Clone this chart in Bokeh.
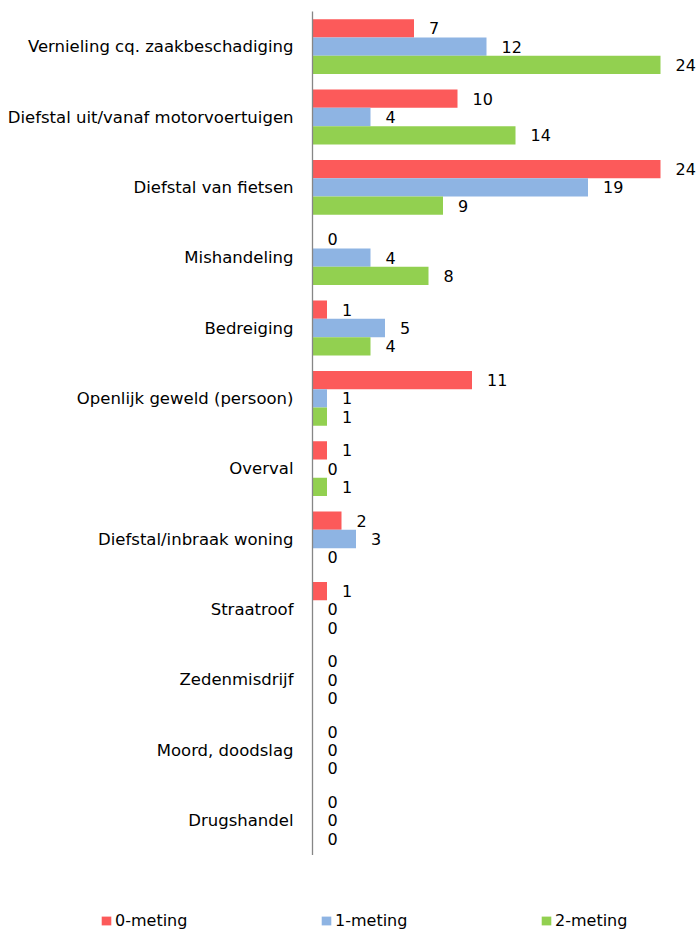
from bokeh.plotting import figure
from bokeh.layouts import column
from bokeh.models import ColumnDataSource, FactorRange, Range1d, Legend, LegendItem
from bokeh.transform import dodge
from bokeh.core.properties import value
from bokeh.embed import file_html
from bokeh.resources import INLINE

categories = [
    "Vernieling cq. zaakbeschadiging",
    "Diefstal uit/vanaf motorvoertuigen",
    "Diefstal van fietsen",
    "Mishandeling",
    "Bedreiging",
    "Openlijk geweld (persoon)",
    "Overval",
    "Diefstal/inbraak woning",
    "Straatroof",
    "Zedenmisdrijf",
    "Moord, doodslag",
    "Drugshandel",
]
series_names = ["0-meting", "1-meting", "2-meting"]
meting0 = [7, 10, 24, 0, 1, 11, 1, 2, 1, 0, 0, 0]
meting1 = [12, 4, 19, 4, 5, 1, 0, 3, 0, 0, 0, 0]
meting2 = [24, 14, 9, 8, 4, 1, 1, 0, 0, 0, 0, 0]
colors = ["#FC5A5A", "#8EB4E3", "#92D050"]

FONT = "DejaVu Sans"
PX_PER_UNIT = 14.5
LEFT = 312
W = 699
H_MAIN = 855
H_LEG = 75

p = figure(
    width=W, height=H_MAIN,
    y_range=FactorRange(factors=list(reversed(categories)), range_padding=0),
    x_range=Range1d(0, (W - LEFT) / PX_PER_UNIT),
    x_axis_location=None,
    output_backend="svg", toolbar_location=None,
    min_border_left=LEFT, min_border_right=0, min_border_top=11, min_border_bottom=0,
)
p.frame_align = False
p.outline_line_color = None
p.xgrid.visible = False
p.ygrid.visible = False

yax = p.yaxis[0]
yax.axis_line_color = "#868686"
yax.axis_line_width = 1.3
yax.major_tick_out = 0
yax.major_tick_in = 0
yax.minor_tick_out = 0
yax.minor_tick_in = 0
yax.major_label_standoff = 19
yax.major_label_text_font = FONT
yax.major_label_text_font_size = "16.5px"
yax.major_label_text_color = "#000000"

src = ColumnDataSource(dict(
    cat=categories,
    m0=meting0, m1=meting1, m2=meting2,
    l0=[str(v) for v in meting0],
    l1=[str(v) for v in meting1],
    l2=[str(v) for v in meting2],
))

offsets = [0.26, 0.0, -0.26]
for key, lab, off, col in zip(["m0", "m1", "m2"], ["l0", "l1", "l2"], offsets, colors):
    p.hbar(y=dodge("cat", off, range=p.y_range), left=0, right=key, height=0.26,
           source=src, fill_color=col, line_color=None)
    p.text(x=key, y=dodge("cat", off, range=p.y_range), text=lab, source=src,
           x_offset=15, text_align="left", text_baseline="middle",
           text_font=value(FONT), text_font_size="16px", text_color="#000000")

# legend strip below the chart
pl = figure(
    width=W, height=H_LEG,
    x_range=Range1d(0, 1), y_range=Range1d(0, 1),
    x_axis_location=None, y_axis_location=None,
    output_backend="svg", toolbar_location=None,
    min_border_left=0, min_border_right=0, min_border_top=0, min_border_bottom=0,
)
pl.frame_align = False
pl.outline_line_color = None
pl.xgrid.visible = False
pl.ygrid.visible = False
leg_renderers = []
for key, c in zip(["m0", "m1", "m2"], colors):
    r = pl.hbar(y=key, right=key, left=0, height=0.1, source=src,
                fill_color=c, line_color=None)
    r.visible = False
    leg_renderers.append(r)

legend = Legend(
    items=[LegendItem(label=n, renderers=[r]) for n, r in zip(series_names, leg_renderers)],
    orientation="horizontal",
    location=(100, 0),
    glyph_width=12, glyph_height=11,
    label_standoff=3, label_width=75, label_height=16,
    spacing=130, padding=0, margin=0,
    border_line_color=None, background_fill_alpha=0,
    inactive_fill_alpha=0,
    label_text_font=FONT, label_text_font_size="16px", label_text_color="#000000",
)
pl.add_layout(legend, "center")

layout = column(p, pl, spacing=0)
open("out.html", "w").write(file_html(layout, INLINE))
